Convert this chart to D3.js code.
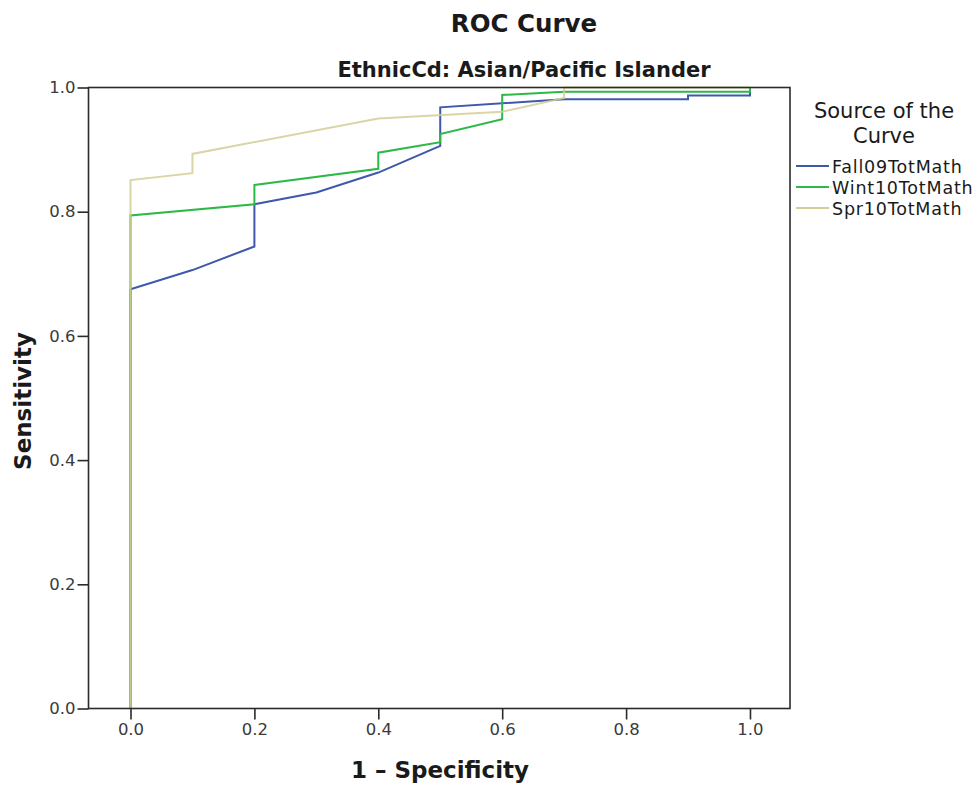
<!DOCTYPE html>
<html>
<head>
<meta charset="utf-8">
<script src="https://cdn.jsdelivr.net/npm/d3@7"></script>
<style>
  html, body { margin: 0; padding: 0; background: #fff; }
  svg { display: block; }
</style>
</head>
<body>
<svg id="chart" width="976" height="789"></svg>
<script>
// ---- Data ----
const seriesNames = ["Fall09TotMath", "Wint10TotMath", "Spr10TotMath"];
const fall09X = [0, 0, 0.1, 0.2, 0.2, 0.3, 0.4, 0.5, 0.5, 0.7, 0.9, 0.9, 1.0, 1.0];
const fall09Y = [0, 0.675, 0.706, 0.744, 0.812, 0.831, 0.863, 0.906, 0.968, 0.981, 0.981, 0.987, 0.987, 1.0];
const wint10X = [0, 0, 0.2, 0.2, 0.4, 0.4, 0.5, 0.5, 0.6, 0.6, 0.7, 1.0, 1.0];
const wint10Y = [0, 0.794, 0.812, 0.843, 0.869, 0.895, 0.912, 0.925, 0.949, 0.988, 0.993, 0.993, 1.0];
const spr10X = [0, 0, 0.1, 0.1, 0.4, 0.6, 0.7, 0.7, 1.0];
const spr10Y = [0, 0.851, 0.862, 0.893, 0.950, 0.961, 0.983, 1.0, 1.0];
const xTicks = [0.0, 0.2, 0.4, 0.6, 0.8, 1.0];
const yTicks = [0.0, 0.2, 0.4, 0.6, 0.8, 1.0];
const colors = ["#3E58AC", "#2EB848", "#D3CE97"];

const series = [
  { name: seriesNames[0], xs: fall09X, ys: fall09Y, color: colors[0] },
  { name: seriesNames[1], xs: wint10X, ys: wint10Y, color: colors[1] },
  { name: seriesNames[2], xs: spr10X, ys: spr10Y, color: colors[2] }
];

// ---- Layout ----
const plot = { left: 88.5, right: 790, top: 87.5, bottom: 708.5 };
const svg = d3.select("#chart");

const x = d3.scaleLinear()
  .domain([-0.0678, 1.0646])
  .range([plot.left, plot.right]);
const y = d3.scaleLinear()
  .domain([0, 1])
  .range([plot.bottom, plot.top]);

// Titles
svg.append("text")
  .attr("x", 524).attr("y", 31.5)
  .attr("text-anchor", "middle")
  .attr("font-family", "DejaVu Sans")
  .attr("font-weight", "bold")
  .attr("font-size", 24.5)
  .attr("fill", "#1a1a1a")
  .text("ROC Curve");

svg.append("text")
  .attr("x", 524).attr("y", 76.5)
  .attr("text-anchor", "middle")
  .attr("font-family", "DejaVu Sans")
  .attr("font-weight", "bold")
  .attr("font-size", 21)
  .attr("fill", "#1a1a1a")
  .text("EthnicCd: Asian/Pacific Islander");

// Lines
const line = d3.line()
  .x(d => x(d[0]))
  .y(d => y(d[1]));

const g = svg.append("g");
series.forEach((s, i) => {
  const pts = s.xs.map((v, j) => [v, s.ys[j]]);
  g.append("path")
    .datum(pts)
    .attr("fill", "none")
    .attr("stroke", s.color)
    .attr("stroke-width", 2)
    .attr("stroke-opacity", i === 2 ? 0.85 : 1)
    .attr("stroke-linejoin", "miter")
    .attr("d", line);
});

// Frame
svg.append("rect")
  .attr("x", plot.left).attr("y", plot.top)
  .attr("width", plot.right - plot.left)
  .attr("height", plot.bottom - plot.top)
  .attr("fill", "none")
  .attr("stroke", "#2b2b2b")
  .attr("stroke-width", 1.6);

// Axes
const xAxis = d3.axisBottom(x)
  .tickValues(xTicks)
  .tickFormat(d3.format(".1f"))
  .tickSize(11)
  .tickSizeOuter(0)
  .tickPadding(4);
const yAxis = d3.axisLeft(y)
  .tickValues(yTicks)
  .tickFormat(d3.format(".1f"))
  .tickSize(11)
  .tickSizeOuter(0)
  .tickPadding(2);

const gx = svg.append("g")
  .attr("transform", `translate(0,${plot.bottom})`)
  .call(xAxis);
const gy = svg.append("g")
  .attr("transform", `translate(${plot.left},0)`)
  .call(yAxis);

[gx, gy].forEach(ax => {
  ax.select(".domain").remove();
  ax.selectAll(".tick line").attr("stroke", "#2b2b2b").attr("stroke-width", 1.6);
  ax.selectAll(".tick text")
    .attr("font-family", "DejaVu Sans")
    .attr("font-size", 16.5)
    .attr("fill", "#3a3a3a");
});

// Axis titles
svg.append("text")
  .attr("x", 440).attr("y", 778)
  .attr("text-anchor", "middle")
  .attr("font-family", "DejaVu Sans")
  .attr("font-weight", "bold")
  .attr("font-size", 23)
  .attr("fill", "#1a1a1a")
  .text("1 \u2013 Specificity");

svg.append("text")
  .attr("transform", "translate(31,401) rotate(-90)")
  .attr("text-anchor", "middle")
  .attr("font-family", "DejaVu Sans")
  .attr("font-weight", "bold")
  .attr("font-size", 23)
  .attr("fill", "#1a1a1a")
  .text("Sensitivity");

// Legend
const leg = svg.append("g");
leg.append("text")
  .attr("x", 884).attr("y", 118)
  .attr("text-anchor", "middle")
  .attr("font-family", "DejaVu Sans")
  .attr("font-size", 21)
  .attr("fill", "#1a1a1a")
  .text("Source of the");
leg.append("text")
  .attr("x", 884).attr("y", 143)
  .attr("text-anchor", "middle")
  .attr("font-family", "DejaVu Sans")
  .attr("font-size", 21)
  .attr("fill", "#1a1a1a")
  .text("Curve");

series.forEach((s, i) => {
  const yy = 166 + i * 21;
  leg.append("line")
    .attr("x1", 796).attr("x2", 829)
    .attr("y1", yy).attr("y2", yy)
    .attr("stroke", s.color)
    .attr("stroke-width", 2);
  leg.append("text")
    .attr("x", 832).attr("y", yy + 6.5)
    .attr("font-family", "DejaVu Sans")
    .attr("font-size", 17.5)
    .attr("letter-spacing", 0.8)
    .attr("fill", "#1a1a1a")
    .text(s.name);
});
</script>
</body>
</html>
